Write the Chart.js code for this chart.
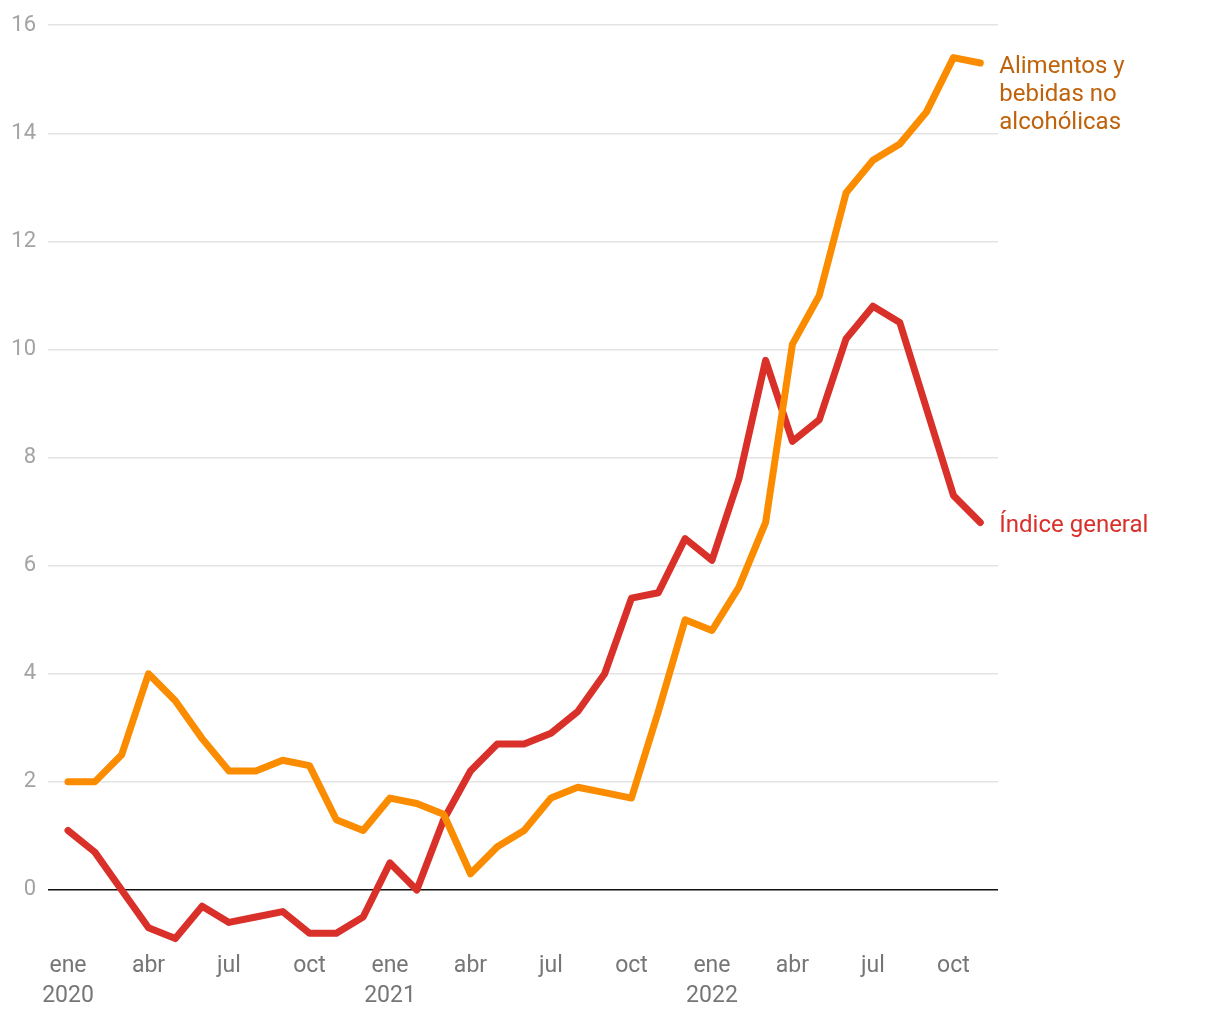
<!DOCTYPE html>
<html>
<head>
<meta charset="utf-8">
<script src="https://cdn.jsdelivr.net/npm/chart.js@4"></script>
<style>
  html, body { margin: 0; padding: 0; background: #fff; }
  #wrap { position: relative; width: 1220px; height: 1020px; }
</style>
</head>
<body>
<div id="wrap"><canvas id="c" width="1220" height="1020"></canvas></div>
<script>
const months = ['ene','feb','mar','abr','may','jun','jul','ago','sep','oct','nov','dic'];
const years = [2020, 2021, 2022];
const categories = [];
years.forEach(y => months.forEach(m => categories.push(m + ' ' + y)));
categories.length = 35; // ene 2020 – nov 2022

const alimentos = [2.0, 2.0, 2.5, 4.0, 3.5, 2.8, 2.2, 2.2, 2.4, 2.3, 1.3, 1.1,
                   1.7, 1.6, 1.4, 0.3, 0.8, 1.1, 1.7, 1.9, 1.8, 1.7, 3.3, 5.0,
                   4.8, 5.6, 6.8, 10.1, 11.0, 12.9, 13.5, 13.8, 14.4, 15.4, 15.3];
const general = [1.1, 0.7, 0.0, -0.7, -0.9, -0.3, -0.6, -0.5, -0.4, -0.8, -0.8, -0.5,
                 0.5, 0.0, 1.3, 2.2, 2.7, 2.7, 2.9, 3.3, 4.0, 5.4, 5.5, 6.5,
                 6.1, 7.6, 9.8, 8.3, 8.7, 10.2, 10.8, 10.5, 8.9, 7.3, 6.8];
const seriesNames = [['Alimentos y', 'bebidas no', 'alcohólicas'], ['Índice general']];
const yTicks = [0, 2, 4, 6, 8, 10, 12, 14, 16];
const xTickIdx = [0, 3, 6, 9, 12, 15, 18, 21, 24, 27, 30, 33];

const ORANGE = '#fb8c00';
const RED = '#d9302a';
const ORANGE_TXT = '#c0620a';
const RED_TXT = '#d9302a';
const FONT = 'Roboto';

const toPts = arr => arr.map((v, i) => ({ x: i, y: v }));

const endLabels = {
  id: 'endLabels',
  afterDatasetsDraw(chart) {
    const ctx = chart.ctx;
    ctx.save();
    ctx.font = '24px ' + FONT;
    ctx.textBaseline = 'middle';
    ctx.textAlign = 'left';
    chart.data.datasets.forEach((ds, di) => {
      const meta = chart.getDatasetMeta(di);
      const last = meta.data[meta.data.length - 1];
      const lines = seriesNames[di];
      ctx.fillStyle = di === 0 ? ORANGE_TXT : RED_TXT;
      lines.forEach((t, li) => {
        ctx.fillText(t, last.x + 19, last.y + 4 + li * 28);
      });
    });
    ctx.restore();
  }
};

new Chart(document.getElementById('c'), {
  type: 'line',
  data: {
    datasets: [
      { label: 'Alimentos y bebidas no alcohólicas', data: toPts(alimentos),
        borderColor: ORANGE, borderWidth: 7, pointRadius: 0, tension: 0,
        borderCapStyle: 'round', borderJoinStyle: 'round' },
      { label: 'Índice general', data: toPts(general),
        borderColor: RED, borderWidth: 7, pointRadius: 0, tension: 0,
        borderCapStyle: 'round', borderJoinStyle: 'round' }
    ]
  },
  options: {
    responsive: false,
    animation: false,
    devicePixelRatio: 1,
    layout: { padding: { top: 23, right: 222, bottom: 0, left: 0 } },
    plugins: { legend: { display: false }, tooltip: { enabled: false } },
    scales: {
      x: {
        type: 'linear',
        min: -0.745,
        max: 34.66,
        afterBuildTicks: s => { s.ticks = xTickIdx.map(v => ({ value: v })); },
        afterFit: s => { s.height = 76; },
        grid: { display: false, drawTicks: false },
        border: { display: false },
        ticks: {
          autoSkip: false,
          maxRotation: 0,
          padding: 7,
          color: '#767676',
          font: { family: FONT, size: 23, lineHeight: '30px' },
          callback: v => {
            const i = Math.round(v);
            const m = months[i % 12];
            return (i % 12 === 0) ? [m, String(years[Math.floor(i / 12)])] : m;
          }
        }
      },
      y: {
        min: -1,
        max: 16,
        afterBuildTicks: s => { s.ticks = yTicks.map(v => ({ value: v })); },
        afterFit: s => { s.width = 48; },
        border: { display: false },
        grid: {
          drawTicks: false,
          lineWidth: 1.5,
          color: ctx => (ctx.tick && ctx.tick.value === 0) ? '#111111' : '#e3e3e3'
        },
        ticks: {
          padding: 12,
          color: '#a3a3a3',
          font: { family: FONT, size: 22 }
        }
      }
    }
  },
  plugins: [endLabels]
});
</script>
</body>
</html>
